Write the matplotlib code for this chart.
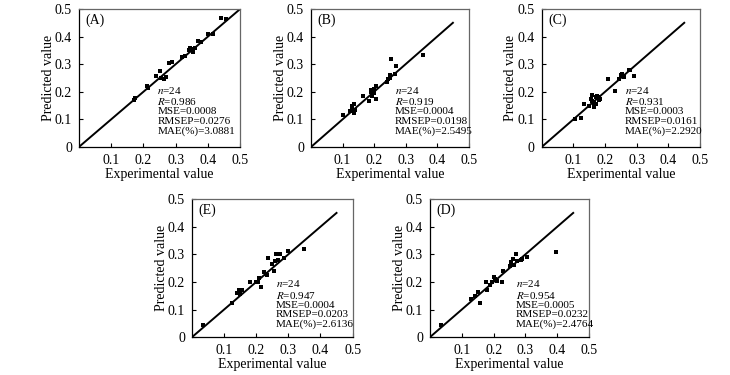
import matplotlib
matplotlib.use("Agg")
import matplotlib.pyplot as plt

plt.rcParams["font.family"] = ["Liberation Serif", "DejaVu Serif"]
plt.rcParams["mathtext.fontset"] = "stix"

# panel data (experimental, predicted)
a_x = [0.17, 0.175, 0.21, 0.215, 0.24, 0.25, 0.255, 0.265, 0.27, 0.28, 0.29, 0.32,
       0.33, 0.34, 0.345, 0.35, 0.355, 0.36, 0.37, 0.38, 0.40, 0.415, 0.44, 0.455]
a_y = [0.17, 0.178, 0.222, 0.215, 0.258, 0.275, 0.25, 0.245, 0.255, 0.305, 0.307, 0.325,
       0.33, 0.35, 0.36, 0.355, 0.345, 0.36, 0.385, 0.38, 0.41, 0.41, 0.468, 0.463]

b_x = [0.10, 0.125, 0.13, 0.13, 0.135, 0.14, 0.135, 0.165, 0.185, 0.19, 0.19, 0.195,
       0.20, 0.20, 0.205, 0.205, 0.24, 0.245, 0.25, 0.25, 0.255, 0.265, 0.27, 0.355]
b_y = [0.117, 0.13, 0.14, 0.15, 0.155, 0.135, 0.125, 0.185, 0.165, 0.20, 0.205, 0.185,
       0.21, 0.195, 0.22, 0.175, 0.235, 0.245, 0.26, 0.25, 0.32, 0.265, 0.293, 0.335]

c_x = [0.105, 0.123, 0.135, 0.15, 0.155, 0.16, 0.16, 0.165, 0.165, 0.17, 0.17, 0.175,
       0.18, 0.18, 0.185, 0.21, 0.233, 0.245, 0.25, 0.255, 0.26, 0.275, 0.28, 0.29]
c_y = [0.10, 0.104, 0.155, 0.15, 0.175, 0.165, 0.19, 0.145, 0.16, 0.18, 0.155, 0.185,
       0.17, 0.18, 0.175, 0.248, 0.204, 0.245, 0.26, 0.265, 0.255, 0.28, 0.278, 0.258]

e_x = [0.035, 0.125, 0.14, 0.145, 0.15, 0.155, 0.18, 0.20, 0.205, 0.21, 0.215, 0.225,
       0.23, 0.235, 0.238, 0.25, 0.255, 0.258, 0.26, 0.268, 0.275, 0.285, 0.298, 0.348]
e_y = [0.043, 0.125, 0.16, 0.172, 0.158, 0.17, 0.20, 0.198, 0.20, 0.213, 0.182, 0.235,
       0.228, 0.225, 0.288, 0.265, 0.24, 0.275, 0.302, 0.28, 0.30, 0.285, 0.312, 0.32]

d_x = [0.035, 0.13, 0.14, 0.15, 0.158, 0.175, 0.18, 0.19, 0.195, 0.20, 0.205, 0.21,
       0.225, 0.228, 0.25, 0.255, 0.26, 0.265, 0.27, 0.272, 0.285, 0.29, 0.305, 0.395]
d_y = [0.045, 0.138, 0.148, 0.165, 0.125, 0.20, 0.172, 0.19, 0.20, 0.218, 0.212, 0.205,
       0.20, 0.238, 0.258, 0.272, 0.284, 0.262, 0.30, 0.275, 0.28, 0.282, 0.292, 0.31]

labels = ["(A)", "(B)", "(C)", "(E)", "(D)"]
stats = [
    ("0.986", "0.0008", "0.0276", "3.0881"),
    ("0.919", "0.0004", "0.0198", "2.5495"),
    ("0.931", "0.0003", "0.0161", "2.2920"),
    ("0.947", "0.0004", "0.0203", "2.6136"),
    ("0.954", "0.0005", "0.0232", "2.4764"),
]
line_end = [0.5, 0.45, 0.45, 0.45, 0.45]
xs = [a_x, b_x, c_x, e_x, d_x]
ys = [a_y, b_y, c_y, e_y, d_y]

# axes rectangles (fig fraction)
rects = [
    [0.108, 0.608, 0.221, 0.368],
    [0.426, 0.608, 0.216, 0.368],
    [0.742, 0.608, 0.217, 0.368],
    [0.263, 0.101, 0.220, 0.368],
    [0.589, 0.101, 0.218, 0.368],
]
text_pos = [(0.243, 0.226), (0.266, 0.226), (0.263, 0.226), (0.26, 0.214), (0.27, 0.214)]

fig = plt.figure(figsize=(7.3, 3.75), dpi=100)

for i in range(5):
    ax = fig.add_axes(rects[i])
    ax.plot([0, line_end[i]], [0, line_end[i]], color="black", lw=1.4)
    ax.plot(xs[i], ys[i], "s", color="black", markersize=2.6, markeredgewidth=0)
    ax.set_xlim(0, 0.5)
    ax.set_ylim(0, 0.5)
    ax.set_xticks([0.1, 0.2, 0.3, 0.4, 0.5])
    ax.set_xticklabels(["0.1", "0.2", "0.3", "0.4", "0.5"])
    ax.set_yticks([0, 0.1, 0.2, 0.3, 0.4, 0.5])
    ax.set_yticklabels(["0", "0.1", "0.2", "0.3", "0.4", "0.5"])
    ax.tick_params(direction="in", length=3, width=0.8, labelsize=10, pad=5)
    for s in ["top", "right"]:
        ax.spines[s].set_color("#666666")
    for s in ax.spines.values():
        s.set_linewidth(0.9)
    ax.set_xlabel("Experimental value", fontsize=10, labelpad=1)
    ax.set_ylabel("Predicted value", fontsize=10, labelpad=0)
    ax.text(0.02, 0.485, labels[i], fontsize=10, va="top", ha="left")
    r, mse, rmsep, mae = stats[i]
    txt = ("$n$=24\n$R$=" + r + "\nMSE=" + mse + "\nRMSEP=" + rmsep +
           "\nMAE(%)=" + mae)
    ax.text(text_pos[i][0], text_pos[i][1], txt, fontsize=8, va="top",
            ha="left", linespacing=1.05)

fig.savefig("out.png", dpi=100)
